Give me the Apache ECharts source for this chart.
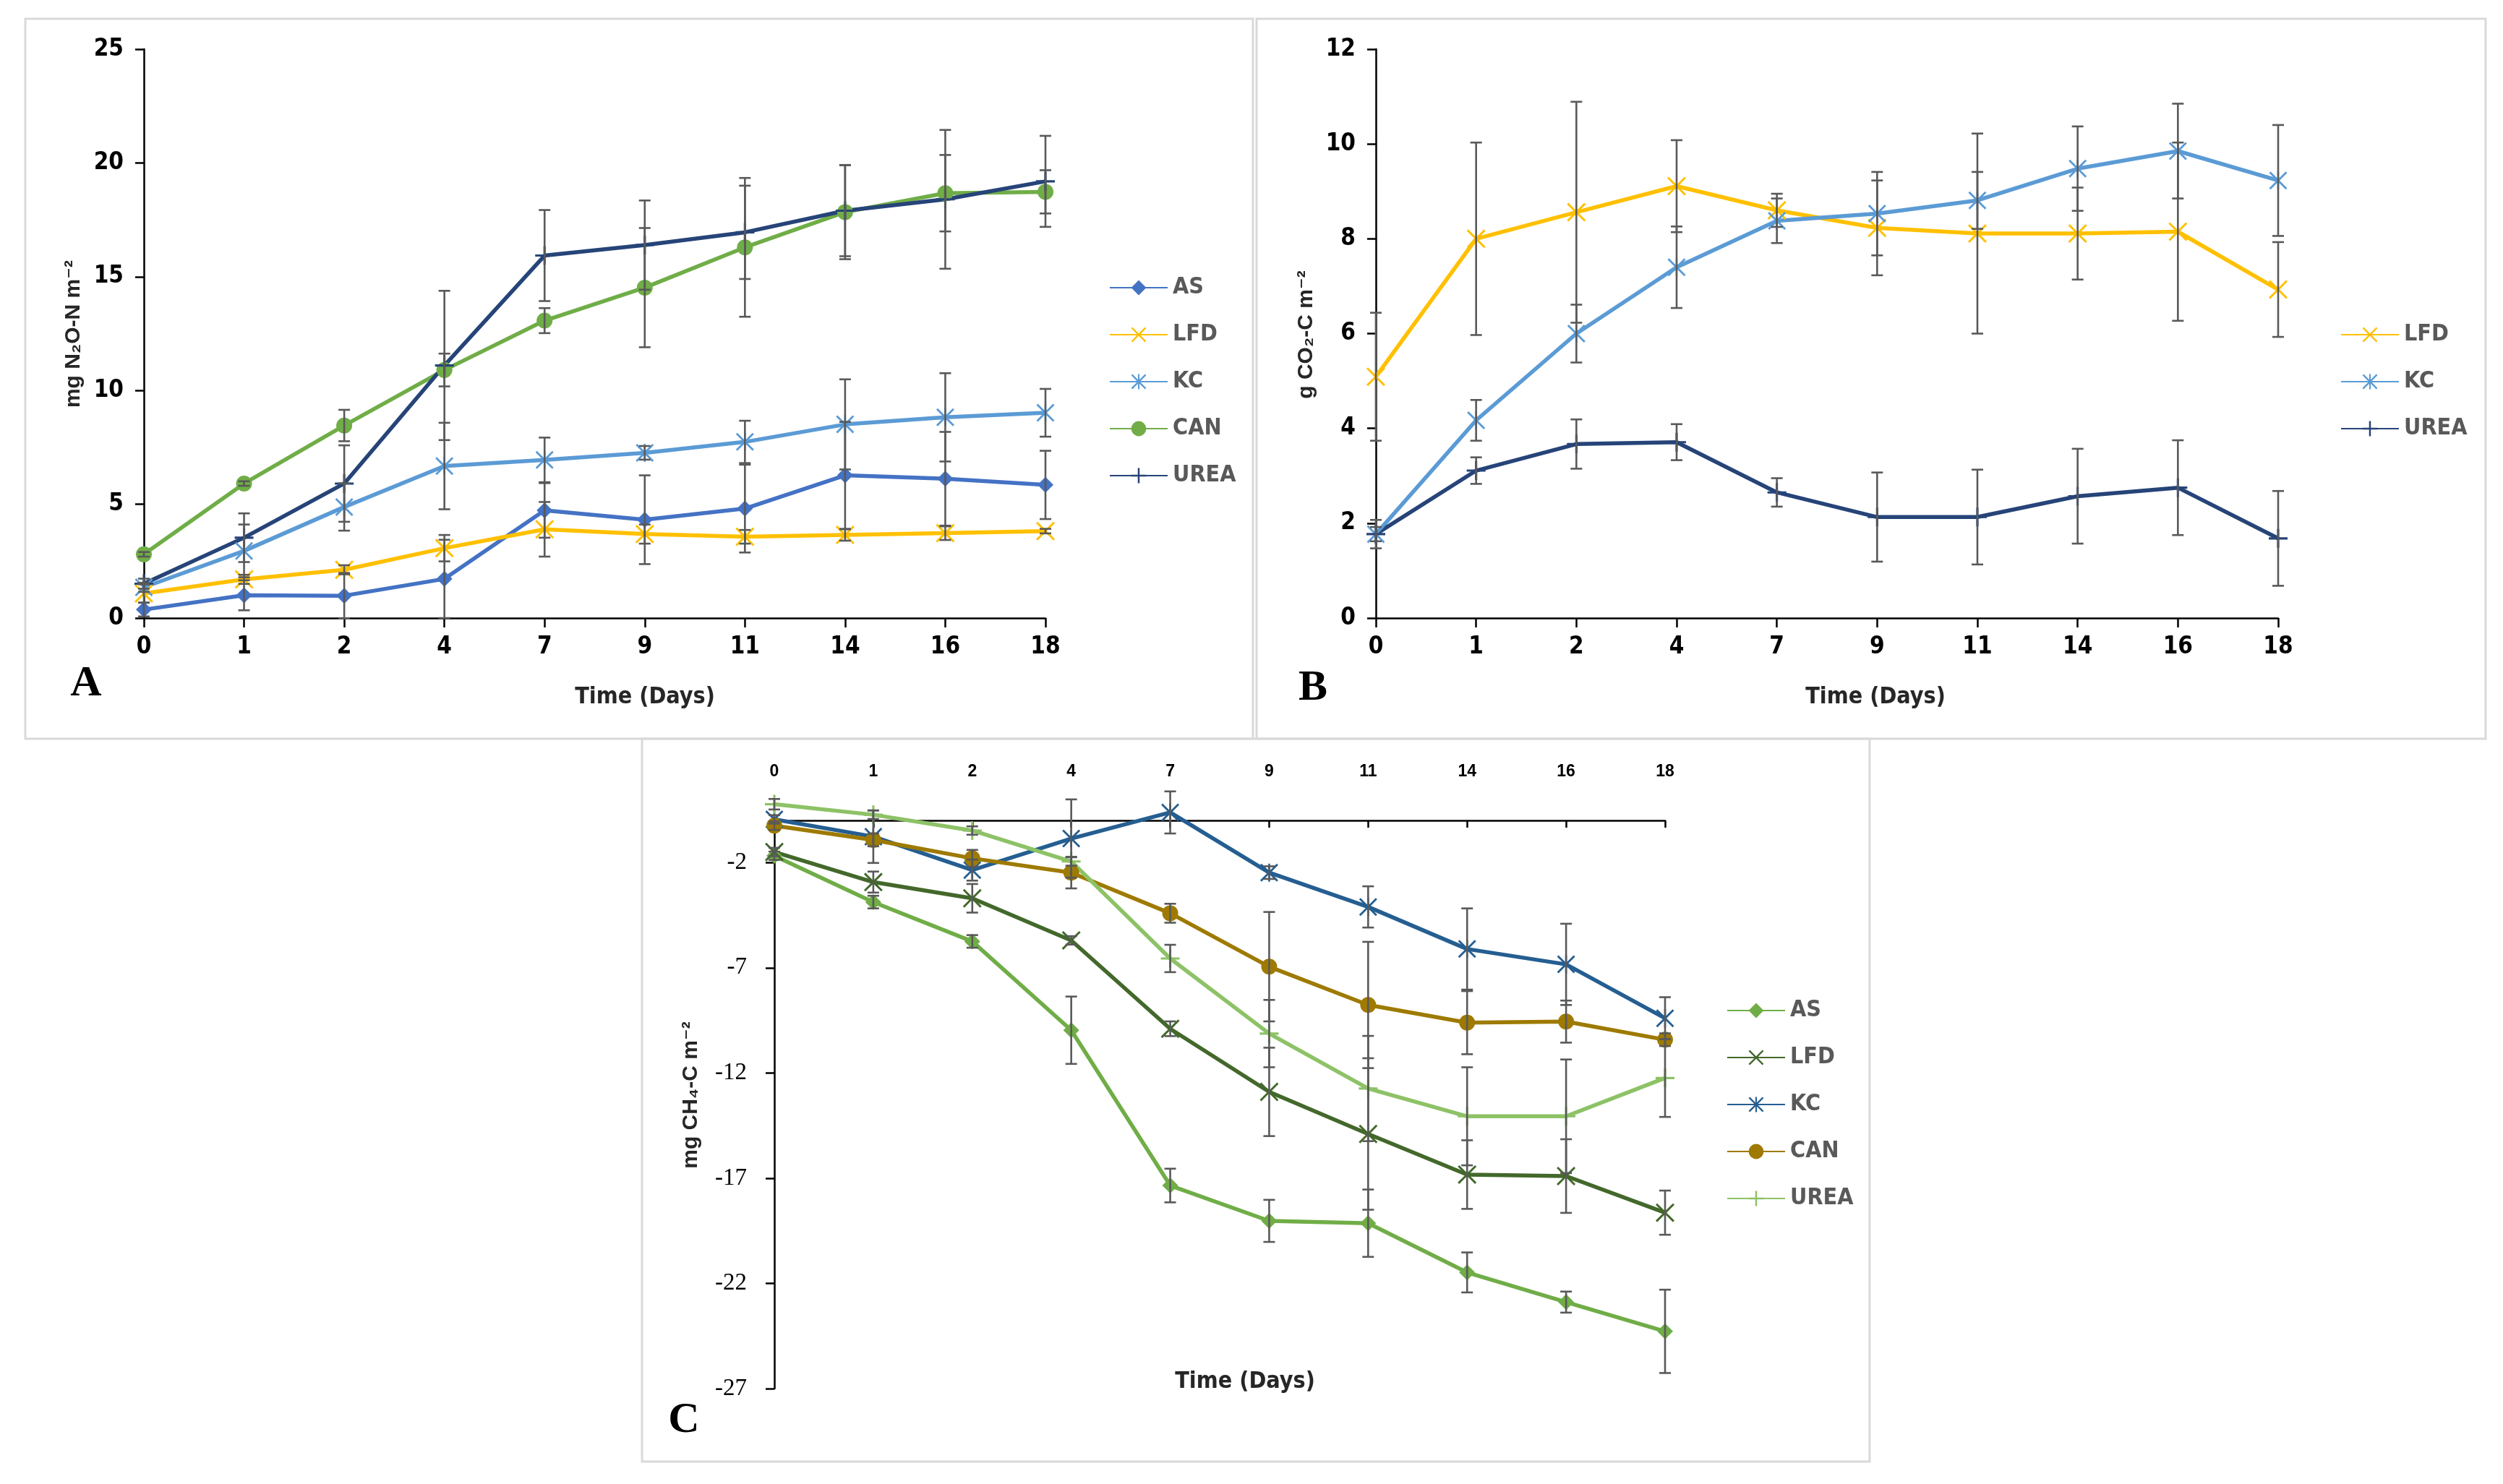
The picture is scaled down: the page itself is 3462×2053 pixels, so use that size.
<!DOCTYPE html>
<html>
<head>
<meta charset="utf-8">
<script src="https://cdn.jsdelivr.net/npm/echarts@6/dist/echarts.min.js"></script>
<style>html,body{margin:0;padding:0;background:#fff;}#chart{width:3462px;height:2053px;}</style>
</head>
<body>
<div id="chart"></div>
<script>
// ---------- data ----------
var days = ['0','1','2','4','7','9','11','14','16','18'];

// Panel A: N2O (mg N2O-N m-2)
var a_AS      = [0.37, 1.00, 0.98, 1.72, 4.73, 4.32, 4.81, 6.27, 6.12, 5.85];
var a_AS_err  = [0.30, 0.66, 1.00, 1.72, 1.20, 1.95, 1.93, 2.35, 2.06, 1.50];
var a_LFD     = [1.08, 1.70, 2.12, 3.07, 3.90, 3.69, 3.57, 3.65, 3.73, 3.82];
var a_LFD_err = [0.40, 0.20, 0.20, 0.58, 1.20, 0.42, 0.30, 0.25, 0.30, 0.10];
var a_KC      = [1.35, 2.95, 4.88, 6.68, 6.95, 7.26, 7.74, 8.51, 8.82, 9.02];
var a_KC_err  = [0.20, 1.16, 1.04, 1.90, 0.98, 0.30, 0.93, 1.98, 1.94, 1.05];
var a_CAN     = [2.80, 5.91, 8.46, 10.90, 13.07, 14.52, 16.29, 17.84, 18.67, 18.73];
var a_CAN_err = [0.10, 0.10, 0.69, 0.72, 0.55, 2.62, 3.05, 2.07, 1.68, 0.95];
var a_UREA    = [1.51, 3.53, 5.91, 11.10, 15.93, 16.39, 16.95, 17.90, 18.40, 19.19];
var a_UREA_err= [0.22, 1.07, 1.68, 3.28, 2.00, 1.96, 2.05, 2.00, 3.05, 2.00];

// Panel B: CO2 (g CO2-C m-2)
var b_LFD     = [5.09, 8.00, 8.56, 9.11, 8.60, 8.23, 8.11, 8.11, 8.15, 6.93];
var b_LFD_err = [1.35, 2.03, 2.33, 0.97, 0.35, 1.00, 2.11, 0.97, 1.88, 1.00];
var b_KC      = [1.77, 4.17, 6.00, 7.40, 8.38, 8.53, 8.81, 9.48, 9.85, 9.23];
var b_KC_err  = [0.15, 0.43, 0.61, 0.86, 0.47, 0.88, 0.60, 0.89, 1.00, 1.17];
var b_UREA    = [1.77, 3.11, 3.67, 3.71, 2.65, 2.13, 2.13, 2.57, 2.75, 1.68];
var b_UREA_err= [0.30, 0.28, 0.52, 0.38, 0.30, 0.94, 1.00, 1.00, 1.00, 1.00];

// Panel C: CH4 (mg CH4-C m-2)
var c_AS      = [-1.68, -3.88, -5.75, -9.97, -17.35, -19.03, -19.14, -21.48, -22.89, -24.28];
var c_AS_err  = [0.20, 0.30, 0.30, 1.60, 0.80, 1.00, 1.60, 0.95, 0.50, 1.98];
var c_LFD     = [-1.50, -2.93, -3.70, -5.70, -9.90, -12.90, -14.90, -16.83, -16.90, -18.64];
var c_LFD_err = [0.20, 0.50, 0.68, 0.20, 0.35, 2.10, 3.60, 1.63, 1.75, 1.05];
var c_KC      = [0.05, -0.77, -2.36, -0.86, 0.38, -2.48, -4.11, -6.11, -6.84, -9.40];
var c_KC_err  = [0.20, 1.25, 0.50, 1.86, 1.00, 0.30, 0.98, 1.93, 1.93, 1.00];
var c_CAN     = [-0.25, -0.93, -1.80, -2.48, -4.41, -6.95, -8.77, -9.61, -9.56, -10.42];
var c_CAN_err = [0.20, 0.30, 0.40, 0.75, 0.45, 2.60, 3.00, 1.50, 1.00, 0.30];
var c_UREA    = [0.77, 0.27, -0.48, -1.95, -6.56, -10.13, -12.74, -14.06, -14.06, -12.24];
var c_UREA_err= [0.25, 0.20, 0.20, 0.20, 0.65, 1.60, 2.50, 2.33, 2.70, 1.85];

var a_ticks = [0, 5, 10, 15, 20, 25];
var b_ticks = [0, 2, 4, 6, 8, 10, 12];
var c_ticks = [-27, -22, -17, -12, -7, -2];

// ---------- styling ----------
var NARROW = "'Liberation Sans Narrow','DejaVu Sans Condensed','Arial Narrow',sans-serif";
var SANS = "'Liberation Sans','DejaVu Sans',Arial,sans-serif";
var SERIF = "'Liberation Serif','DejaVu Serif','Times New Roman',serif";

var SYM_X = 'path://M0,8 L8,0 L50,42 L92,0 L100,8 L58,50 L100,92 L92,100 L50,58 L8,100 L0,92 L42,50 Z';
var SYM_AST = 'path://M0,8 L8,0 L50,42 L92,0 L100,8 L58,50 L100,92 L92,100 L50,58 L8,100 L0,92 L42,50 Z M45,0 L55,0 L55,100 L45,100 Z';
var SYM_PLUS = 'path://M44,0 L56,0 L56,44 L100,44 L100,56 L56,56 L56,100 L44,100 L44,56 L0,56 L0,44 L44,44 Z';

var ERR_COLOR = '#595959';

function lineSeries(id, name, gi, data, color, symbol, size, clip) {
  return {
    id: id, name: name, type: 'line', xAxisIndex: gi, yAxisIndex: gi,
    data: data, symbol: symbol, symbolSize: size, showSymbol: true,
    clip: clip === undefined ? true : clip,
    lineStyle: { color: color, width: 5.5 },
    itemStyle: { color: color, borderWidth: 0 },
    emphasis: { disabled: true }, z: 2, animation: false
  };
}

function errSeries(gi, values, errs) {
  var d = [];
  for (var i = 0; i < values.length; i++) d.push([i, values[i], errs[i]]);
  return {
    type: 'custom', xAxisIndex: gi, yAxisIndex: gi, data: d, z: 3, clip: false,
    encode: { x: 0, y: 1 }, silent: true, animation: false,
    renderItem: function (params, api) {
      var x = api.value(0), v = api.value(1), e = api.value(2);
      var top = api.coord([x, v + e]);
      var bot = api.coord([x, v - e]);
      var hw = 8;
      var st = { stroke: ERR_COLOR, lineWidth: 2.6 };
      return { type: 'group', children: [
        { type: 'line', shape: { x1: top[0], y1: top[1], x2: bot[0], y2: bot[1] }, style: st },
        { type: 'line', shape: { x1: top[0] - hw, y1: top[1], x2: top[0] + hw, y2: top[1] }, style: st },
        { type: 'line', shape: { x1: bot[0] - hw, y1: bot[1], x2: bot[0] + hw, y2: bot[1] }, style: st }
      ]};
    }
  };
}

function catAxis(gi, pos) {
  var top = pos === 'top';
  return {
    type: 'category', gridIndex: gi, data: days, boundaryGap: false, position: pos,
    axisLine: { show: true, onZero: false, lineStyle: { color: '#000', width: 2.5 } },
    axisTick: { show: true, inside: top, length: top ? 10 : 13, lineStyle: { color: '#000', width: 2.5 } },
    axisLabel: top ? { margin: 56, fontSize: 23, fontWeight: 'bold', color: '#000', fontFamily: SANS }
                   : { margin: 24, fontSize: 33, fontWeight: 'bold', color: '#000', fontFamily: NARROW },
    splitLine: { show: false }
  };
}

function valAxis(gi, min, max, interval, ticks, serif) {
  return {
    type: 'value', gridIndex: gi, min: min, max: max, interval: interval,
    axisLine: { show: true, onZero: false, lineStyle: { color: '#000', width: 2.5 } },
    axisTick: { show: true, length: 12, customValues: ticks, lineStyle: { color: '#000', width: 2.5 } },
    axisLabel: serif ? { margin: 38, fontSize: 33, color: '#000', fontFamily: SERIF, customValues: ticks }
                     : { margin: 28, fontSize: 33, fontWeight: 'bold', color: '#000', fontFamily: NARROW, customValues: ticks },
    splitLine: { show: false }
  };
}

function legend(left, top, names) {
  return {
    orient: 'vertical', left: left, top: top, data: names,
    itemWidth: 80, itemHeight: 26, itemGap: 31,
    formatter: function (n) { return n.slice(2); },
    textStyle: { fontSize: 32, lineHeight: 34, fontWeight: 'bold', color: '#595959', fontFamily: NARROW, padding: [0, 0, 0, 2] },
    selectedMode: false
  };
}

function boxRect(x, y, w, h) {
  return { type: 'rect', shape: { x: x, y: y, width: w, height: h }, style: { fill: null, stroke: '#D9D9D9', lineWidth: 3 }, z: 0, silent: true };
}
function txt(x, y, t, font, size, weight, color, rot) {
  return { type: 'text', x: x, y: y, rotation: rot || 0, silent: true, z: 10,
    style: { text: t, fontFamily: font, fontSize: size, fontWeight: weight, fill: color, textAlign: 'center', textVerticalAlign: 'middle' } };
}

var colA = { AS: '#4472C4', LFD: '#FFC000', KC: '#5B9BD5', CAN: '#70AD47', UREA: '#264478' };
var colC = { AS: '#70AD47', LFD: '#43682B', KC: '#255E91', CAN: '#9E7A00', UREA: '#8DC266' };

var chart = echarts.init(document.getElementById('chart'));
var option = {
  backgroundColor: '#ffffff',
  animation: false,
  grid: [
    { left: 199, top: 68, width: 1247, height: 787 },
    { left: 1903, top: 68, width: 1248, height: 787 },
    { left: 1071, top: 1135, width: 1232, height: 786 }
  ],
  xAxis: [catAxis(0, 'bottom'), catAxis(1, 'bottom'), catAxis(2, 'top')],
  yAxis: [
    valAxis(0, 0, 25, 5, a_ticks, false),
    valAxis(1, 0, 12, 2, b_ticks, false),
    valAxis(2, -27, 0, 5, c_ticks, true)
  ],
  legend: [
    legend(1529, 376, ['A-AS', 'A-LFD', 'A-KC', 'A-CAN', 'A-UREA']),
    legend(3232, 441, ['B-LFD', 'B-KC', 'B-UREA']),
    legend(2383, 1376, ['C-AS', 'C-LFD', 'C-KC', 'C-CAN', 'C-UREA'])
  ],
  series: [
    lineSeries('a1', 'A-AS', 0, a_AS, colA.AS, 'diamond', 22),
    lineSeries('a2', 'A-LFD', 0, a_LFD, colA.LFD, SYM_X, 26),
    lineSeries('a3', 'A-KC', 0, a_KC, colA.KC, SYM_AST, 25),
    lineSeries('a4', 'A-CAN', 0, a_CAN, colA.CAN, 'circle', 22),
    lineSeries('a5', 'A-UREA', 0, a_UREA, colA.UREA, SYM_PLUS, 26),
    errSeries(0, a_AS, a_AS_err), errSeries(0, a_LFD, a_LFD_err), errSeries(0, a_KC, a_KC_err),
    errSeries(0, a_CAN, a_CAN_err), errSeries(0, a_UREA, a_UREA_err),

    lineSeries('b1', 'B-LFD', 1, b_LFD, colA.LFD, SYM_X, 26),
    lineSeries('b2', 'B-KC', 1, b_KC, colA.KC, SYM_AST, 25),
    lineSeries('b3', 'B-UREA', 1, b_UREA, colA.UREA, SYM_PLUS, 26),
    errSeries(1, b_LFD, b_LFD_err), errSeries(1, b_KC, b_KC_err), errSeries(1, b_UREA, b_UREA_err),

    lineSeries('c1', 'C-AS', 2, c_AS, colC.AS, 'diamond', 22, false),
    lineSeries('c2', 'C-LFD', 2, c_LFD, colC.LFD, SYM_X, 26, false),
    lineSeries('c3', 'C-KC', 2, c_KC, colC.KC, SYM_AST, 25, false),
    lineSeries('c4', 'C-CAN', 2, c_CAN, colC.CAN, 'circle', 22, false),
    lineSeries('c5', 'C-UREA', 2, c_UREA, colC.UREA, SYM_PLUS, 26, false),
    errSeries(2, c_AS, c_AS_err), errSeries(2, c_LFD, c_LFD_err), errSeries(2, c_KC, c_KC_err),
    errSeries(2, c_CAN, c_CAN_err), errSeries(2, c_UREA, c_UREA_err)
  ],
  graphic: [
    boxRect(35, 26, 1698, 996),
    boxRect(1738, 26, 1700, 996),
    boxRect(888, 1022, 1698, 1000),
    txt(119, 946, 'A', SERIF, 60, 'bold', '#000'),
    txt(1816, 952, 'B', SERIF, 60, 'bold', '#000'),
    txt(946, 1965, 'C', SERIF, 60, 'bold', '#000'),
    txt(892, 965, 'Time (Days)', NARROW, 32, 'bold', '#262626'),
    txt(2594, 965, 'Time (Days)', NARROW, 32, 'bold', '#262626'),
    txt(1722, 1912, 'Time (Days)', NARROW, 32, 'bold', '#262626'),
    txt(102, 462, 'mg N\u2082O-N m\u207B\u00B2', SANS, 30, 'bold', '#262626', Math.PI / 2),
    txt(1807, 463, 'g CO\u2082-C m\u207B\u00B2', SANS, 30, 'bold', '#262626', Math.PI / 2),
    txt(956, 1515, 'mg CH\u2084-C m\u207B\u00B2', SANS, 30, 'bold', '#262626', Math.PI / 2)
  ]
};
chart.setOption(option);
</script>
</body>
</html>
